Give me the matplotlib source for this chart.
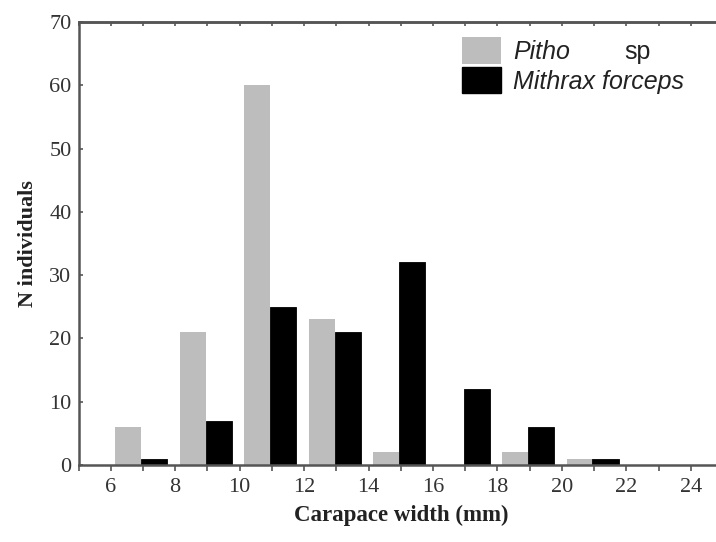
import numpy as np
import matplotlib.pyplot as plt
from matplotlib.patches import Patch

# ---------- Data ----------
bin_centers = [7, 9, 11, 13, 15, 17, 19, 21, 23]
pitho = [6, 21, 60, 23, 2, 0, 2, 1, 0]
mithrax = [1, 7, 25, 21, 32, 12, 6, 1, 0]
x_ticks = [6, 8, 10, 12, 14, 16, 18, 20, 22, 24]
y_ticks = [0, 10, 20, 30, 40, 50, 60, 70]

grey = '#bdbdbd'
axis_col = '#555555'
text_col = '#333333'

# ---------- Figure ----------
W, H = 716, 542
fig = plt.figure(figsize=(W / 100, H / 100), dpi=100)
left, right, top, bottom = 78.5, 723, 22, 465
ax = fig.add_axes([left / W, 1 - bottom / H, (right - left) / W, (bottom - top) / H])

centers = np.array(bin_centers, dtype=float)
bw = 0.81
ax.bar(centers - 0.855, pitho, width=bw, align='edge', color=grey, edgecolor='none')
ax.bar(centers - 0.05, mithrax, width=bw, align='edge', color='black', edgecolor='black', linewidth=0.6)

ax.set_xlim(5, 25)
ax.set_ylim(0, 70)

ax.set_xticks(x_ticks)
ax.set_xticks(np.arange(5, 25), minor=True)
ax.set_yticks(y_ticks)

ax.tick_params(axis='x', which='both', direction='out', length=4, width=1.2, color=axis_col)
ax.tick_params(axis='x', which='major', pad=5)
ax.tick_params(axis='y', which='both', direction='in', length=3, width=1.2, color=axis_col, pad=5)

# ticks along the top spine, pointing into the plot
top_ax = ax.secondary_xaxis('top')
top_ax.set_xticks(np.arange(5, 25))
top_ax.tick_params(direction='in', length=3, width=1.2, color=axis_col, labeltop=False)
top_ax.spines['top'].set_color(axis_col)
top_ax.spines['top'].set_linewidth(1.8)

for lab in ax.get_xticklabels() + ax.get_yticklabels():
    lab.set_fontfamily('Liberation Serif')
    lab.set_fontsize(16)
    lab.set_color(text_col)

for side in ['left', 'bottom', 'top']:
    ax.spines[side].set_color(axis_col)
    ax.spines[side].set_linewidth(1.8)
ax.spines['right'].set_visible(False)

ax.set_xlabel('Carapace width (mm)', fontfamily='Liberation Serif', fontweight='bold',
              fontsize=16.5, color='#222222', labelpad=6)
ax.set_ylabel('N individuals', fontfamily='Liberation Serif', fontweight='bold',
              fontsize=16, color='#222222', labelpad=8)

# ---------- Legend ----------
handles = [Patch(facecolor=grey, edgecolor='none'),
           Patch(facecolor='black', edgecolor='black')]
leg = ax.legend(handles, ['Pitho', 'Mithrax forceps'],
                loc='upper left', bbox_to_anchor=(0.56, 1.016), frameon=False,
                prop={'family': 'Liberation Sans', 'style': 'italic', 'size': 18},
                handlelength=1.55, handleheight=1.25, handletextpad=0.5, labelspacing=0.12)
for t in leg.get_texts():
    t.set_color('#222222')
fig.canvas.draw()
bb = leg.get_texts()[0].get_window_extent()
fig.text(624 / W, (bb.y0 + bb.y1) / 2 / H, 'sp', ha='left', va='center',
         fontfamily='Liberation Sans', fontsize=18, color='#222222')

fig.savefig('out.png', dpi=100)
